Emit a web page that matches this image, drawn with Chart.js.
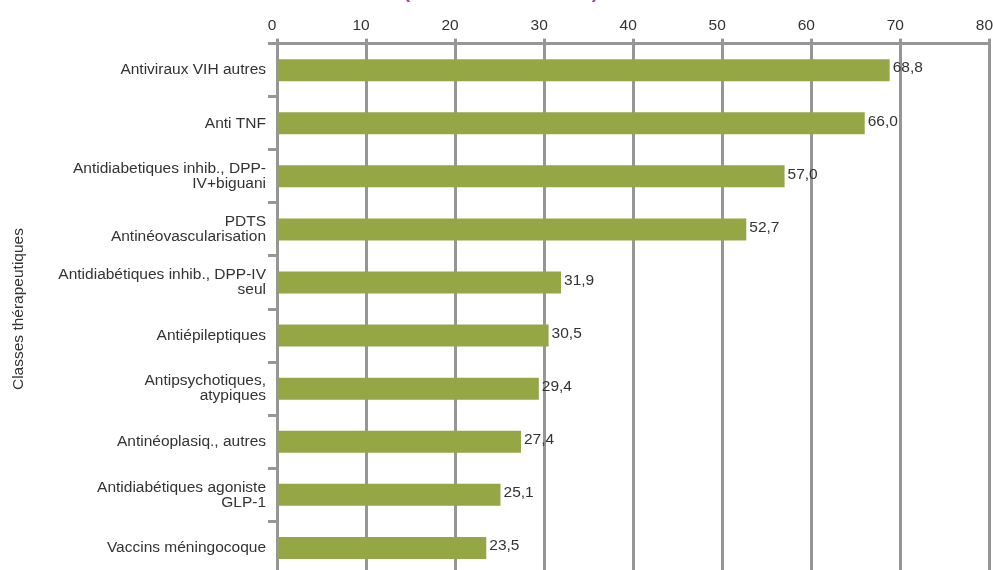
<!DOCTYPE html>
<html>
<head>
<meta charset="utf-8">
<script src="https://cdn.jsdelivr.net/npm/chart.js@4/dist/chart.umd.min.js"></script>
<style>
  html, body { margin: 0; padding: 0; background: #ffffff; overflow: hidden; width: 993px; height: 570px; }
  #wrap { position: absolute; left: 0; top: -20px; width: 1002px; height: 604px; }
</style>
</head>
<body>
<div id="wrap"><canvas id="c"></canvas></div>
<script>
const categories = [
  "Antiviraux VIH autres",
  "Anti TNF",
  ["Antidiabetiques inhib., DPP-", "IV+biguani"],
  ["PDTS", "Antinéovascularisation"],
  ["Antidiabétiques inhib., DPP-IV", "seul"],
  "Antiépileptiques",
  ["Antipsychotiques,", "atypiques"],
  "Antinéoplasiq., autres",
  ["Antidiabétiques agoniste", "GLP-1"],
  "Vaccins méningocoque"
];
const values = [68.8, 66.0, 57.0, 52.7, 31.9, 30.5, 29.4, 27.4, 25.1, 23.5];
const xTicks = [0, 10, 20, 30, 40, 50, 60, 70, 80];
const chartTitle = "(en millions d'euros)";
const yAxisTitle = "Classes thérapeutiques";

const FONT = "'Liberation Sans', Arial, Helvetica, sans-serif";
const TEXT = '#333333';
const GRID = '#969696';
const BAR = '#95a644';

const valueLabels = {
  id: 'valueLabels',
  afterDatasetsDraw(chart) {
    const ctx = chart.ctx;
    const meta = chart.getDatasetMeta(0);
    ctx.save();
    ctx.font = '15.5px ' + FONT;
    ctx.fillStyle = TEXT;
    ctx.textAlign = 'left';
    ctx.textBaseline = 'middle';
    meta.data.forEach((bar, i) => {
      const txt = values[i].toFixed(1).replace('.', ',');
      ctx.fillText(txt, bar.x + 3, bar.y - 2);
    });
    ctx.restore();
  }
};

new Chart(document.getElementById('c'), {
  type: 'bar',
  data: {
    labels: categories,
    datasets: [{
      data: values,
      backgroundColor: BAR,
      borderWidth: 0,
      categoryPercentage: 1.0,
      barPercentage: 0.415
    }]
  },
  options: {
    indexAxis: 'y',
    responsive: true,
    maintainAspectRatio: false,
    animation: false,
    layout: { padding: { left: 0, right: 0, top: 0, bottom: 0 } },
    plugins: {
      legend: { display: false },
      tooltip: { enabled: false },
      title: {
        display: true,
        text: chartTitle,
        color: '#a347a8',
        font: { family: FONT, size: 20 },
        padding: { top: 0, bottom: 8 }
      }
    },
    scales: {
      x: {
        position: 'top',
        min: 0,
        max: 80,
        afterBuildTicks(scale) { scale.ticks = xTicks.map(v => ({ value: v })); },
        ticks: {
          color: TEXT,
          font: { family: FONT, size: 15.5 },
          padding: 4,
          labelOffset: -5,
          maxRotation: 0
        },
        grid: {
          color: GRID,
          lineWidth: 3,
          tickLength: 5,
          drawOnChartArea: true
        },
        border: { display: true, color: GRID, width: 3 }
      },
      y: {
        afterFit(scale) { scale.width = 277; },
        ticks: {
          color: TEXT,
          font: { family: FONT, size: 15.5, lineHeight: 0.97 },
          padding: 2,
          autoSkip: false
        },
        grid: {
          color: GRID,
          lineWidth: 3,
          tickLength: 9,
          drawOnChartArea: false,
          offset: true
        },
        border: { display: true, color: GRID, width: 3 },
        title: {
          display: true,
          text: yAxisTitle,
          color: TEXT,
          font: { family: FONT, size: 15.5 },
          padding: { top: 9, bottom: 0 }
        }
      }
    }
  },
  plugins: [valueLabels]
});
</script>
</body>
</html>
